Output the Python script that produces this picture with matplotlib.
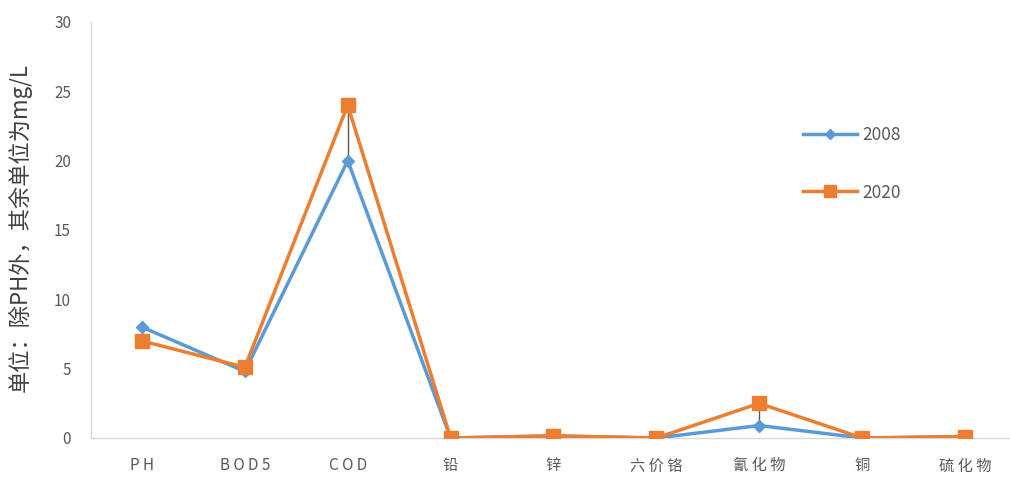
import matplotlib
matplotlib.use("Agg")
import matplotlib.pyplot as plt
import numpy as np

plt.rcParams['font.family'] = ['Noto Sans CJK SC', 'DejaVu Sans']

categories = ["P H", "B O D 5", "C O D", "铅", "锌", "六 价 铬", "氰 化 物", "铜", "硫 化 物"]
values_2008 = [8.0, 4.8, 20.0, 0.0, 0.15, 0.0, 0.9, 0.0, 0.1]
values_2020 = [7.0, 5.1, 24.0, 0.0, 0.15, 0.0, 2.5, 0.0, 0.1]
series_labels = ["2008", "2020"]
y_ticks = [0, 5, 10, 15, 20, 25, 30]

BLUE = "#5B9BD5"
ORANGE = "#ED7D31"
GRAY_TEXT = "#595959"
AXIS = "#D9D9D9"

fig = plt.figure(figsize=(10.1, 4.83), dpi=100)
ax = fig.add_axes([90.5 / 1010, 45 / 483, (1010 - 90.5) / 1010, 416 / 483])

x = np.arange(len(categories))

# high-low lines joining the two series at each category
ax.vlines(x, np.minimum(values_2008, values_2020), np.maximum(values_2008, values_2020),
          color="#595959", lw=1.0, zorder=2)

ax.plot(x, values_2008, color=BLUE, lw=2.5, marker="D", markersize=6.5,
        label=series_labels[0], zorder=3)
ax.plot(x, values_2020, color=ORANGE, lw=2.5, marker="s", markersize=10,
        label=series_labels[1], zorder=4)

ax.set_xlim(-0.5, 8.5 - 6.5 / 103)
ax.set_ylim(0, 30)
ax.set_yticks(y_ticks)
ax.set_xticks(x)
ax.set_xticklabels(categories)

for side in ("top", "right"):
    ax.spines[side].set_visible(False)
for side in ("left", "bottom"):
    ax.spines[side].set_color(AXIS)
    ax.spines[side].set_linewidth(1.0)

ax.tick_params(axis="both", length=0, colors=GRAY_TEXT, labelsize=11)
ax.tick_params(axis="x", pad=14)
ax.tick_params(axis="y", pad=14)

# axis title placed in figure coordinates, slightly above the axes centre
fig.text(20 / 1010, 1 - 227 / 483, "单位：除PH外，其余单位为mg/L", rotation=90,
         ha="center", va="center", fontsize=16, color="#404040")

leg = ax.legend(loc="upper left", bbox_to_anchor=(697 / 919.5, 1 - 88 / 416),
                frameon=False, fontsize=12.5, labelspacing=2.3, handlelength=3.1,
                handletextpad=0.3, markerscale=0.8)
for t in leg.get_texts():
    t.set_color(GRAY_TEXT)

fig.savefig("out.png", dpi=100)
